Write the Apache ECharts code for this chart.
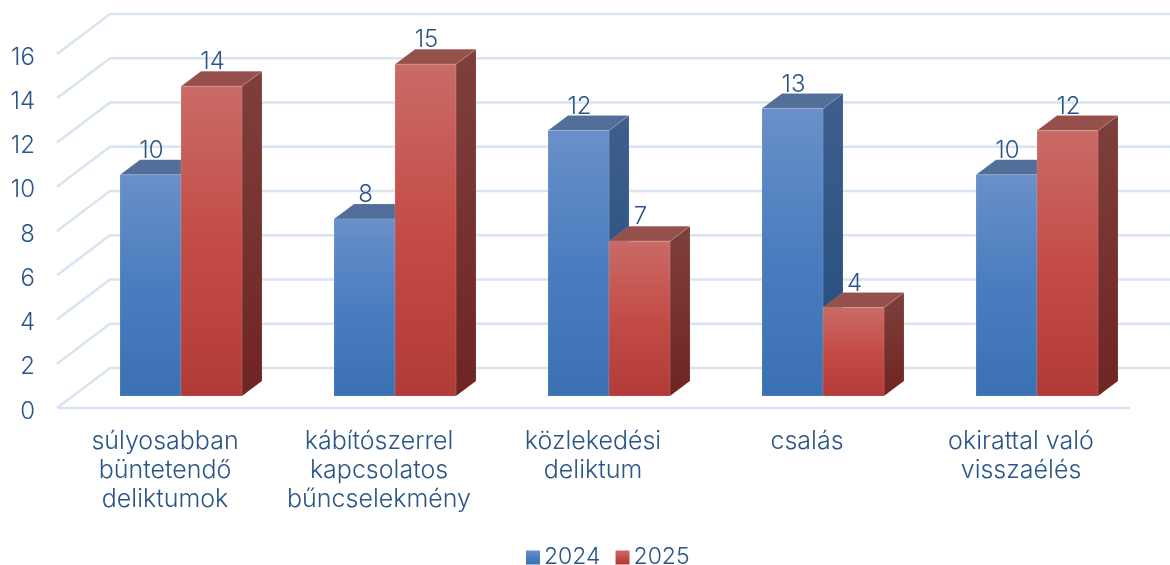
<!DOCTYPE html>
<html><head><meta charset="utf-8">
<style>html,body{margin:0;padding:0;background:#fff}#c{width:1170px;height:565px}</style>
<script src="https://cdn.jsdelivr.net/npm/echarts@6/dist/echarts.min.js"></script>
</head><body><div id="c"></div>
<script>
const categories = ['súlyosabban\nbüntetendő\ndeliktumok','kábítószerrel\nkapcsolatos\nbűncselekmény','közlekedési\ndeliktum','csalás','okirattal való\nvisszaélés'];
const values2024 = [10,8,12,13,10];
const values2025 = [14,15,7,4,12];
const yTicks = [0,2,4,6,8,10,12,14,16];

const FONT='Inter', WEIGHT=300, SIZE=23, TEXT='#2a5588', WALL='#d9e4f3';
const grad=(a,b,c)=>({type:'linear',x:0,y:0,x2:0,y2:1,colorStops:c?[{offset:0,color:a},{offset:.5,color:b},{offset:1,color:c}]:[{offset:0,color:a},{offset:1,color:b}]});
const skins={
  blue:{front:grad('#6a90c9','#4a7dbf','#3a71b3'),top:'#516f98',side:grad('#3d5f8f','#234c7c')},
  red:{front:grad('#c96b66','#c44c47','#b13b38'),top:'#95504c',side:grad('#7e403c','#6f2423')}
};
function barSeries(name,values,skin,shift){
  return {name,type:'custom',coordinateSystem:'cartesian2d',clip:false,z:3,
    itemStyle:{color:skin.front},
    data:values.map((v,i)=>[i,v]),
    renderItem(params,api){
      const i=api.value(0),v=api.value(1);
      const top=api.coord([i,v]),base=api.coord([i,0]);
      const w=61,dx=20,dy=15,lift=12;
      const x=top[0]+16+shift,y=top[1]-lift,b=base[1]-lift;
      const stroke={stroke:'rgba(255,255,255,.12)',lineWidth:1};
      return {type:'group',children:[
        {type:'polygon',shape:{points:[[x+w,y],[x+w+dx,y-dy],[x+w+dx,b-dy],[x+w,b]]},style:{fill:skin.side,...stroke}},
        {type:'polygon',shape:{points:[[x,y],[x+dx,y-dy],[x+w+dx,y-dy],[x+w,y]]},style:{fill:skin.top,...stroke}},
        {type:'rect',shape:{x,y,width:w,height:b-y},style:{fill:skin.front,...stroke}},
        {type:'text',z2:20,style:{text:String(v),x:x+w/2+1,y:y-dy-9,align:'center',verticalAlign:'middle',font:WEIGHT+' 24px '+FONT,fill:TEXT}}
      ]};
    }};
}
const chart=echarts.init(document.getElementById('c'),null,{renderer:'canvas'});
chart.setOption({
  animation:false,backgroundColor:'#fff',
  grid:[
    {left:58,right:42,top:54,bottom:157,containLabel:false},
    {left:58,right:42,top:57.5,bottom:153.5,containLabel:false}
  ],
  legend:{left:521,top:541,itemWidth:14,itemHeight:14,itemGap:15,icon:'rect',data:['2024','2025'],
    textStyle:{fontFamily:FONT,fontWeight:WEIGHT,fontSize:SIZE,color:TEXT,padding:[0,0,0,-1]}},
  xAxis:[
    {type:'category',gridIndex:0,data:categories,axisLine:{show:false},axisTick:{show:false},splitLine:{show:false},
     axisLabel:{interval:0,margin:19,fontFamily:FONT,fontWeight:WEIGHT,fontSize:25,lineHeight:29,color:TEXT}},
    {type:'category',gridIndex:1,data:categories,show:false}
  ],
  yAxis:[
    {type:'value',gridIndex:0,min:0,max:16,interval:2,axisLine:{show:false},axisTick:{show:false},splitLine:{show:false},axisLabel:{show:false}},
    {type:'value',gridIndex:1,min:0,max:16,interval:2,axisLine:{show:false},axisTick:{show:false},splitLine:{show:false},
     axisLabel:{margin:23,fontFamily:FONT,fontWeight:WEIGHT,fontSize:24,color:TEXT}}
  ],
  series:[
    {name:'walls',type:'custom',coordinateSystem:'cartesian2d',xAxisIndex:0,yAxisIndex:0,clip:false,z:1,silent:true,
     data:yTicks.map(t=>[0,t]),
     renderItem(params,api){
       const c=params.coordSys,y=api.coord([0,api.value(1)])[1];
       const x0=c.x-1,ox=53,oy=40,right=c.x+c.width+42;
       const st={stroke:WALL,lineWidth:2.5,fill:null};
       const kids=[{type:'polyline',shape:{points:[[x0,y],[x0+ox,y-oy],[right,y-oy]]},style:st}];
       if(api.value(1)===0)kids.push({type:'line',shape:{x1:x0,y1:y,x2:c.x+c.width+2,y2:y},style:st});
       return {type:'group',children:kids};
     }},
    barSeries('2024',values2024,skins.blue,-61),
    barSeries('2025',values2025,skins.red,0)
  ]
});
</script></body></html>
